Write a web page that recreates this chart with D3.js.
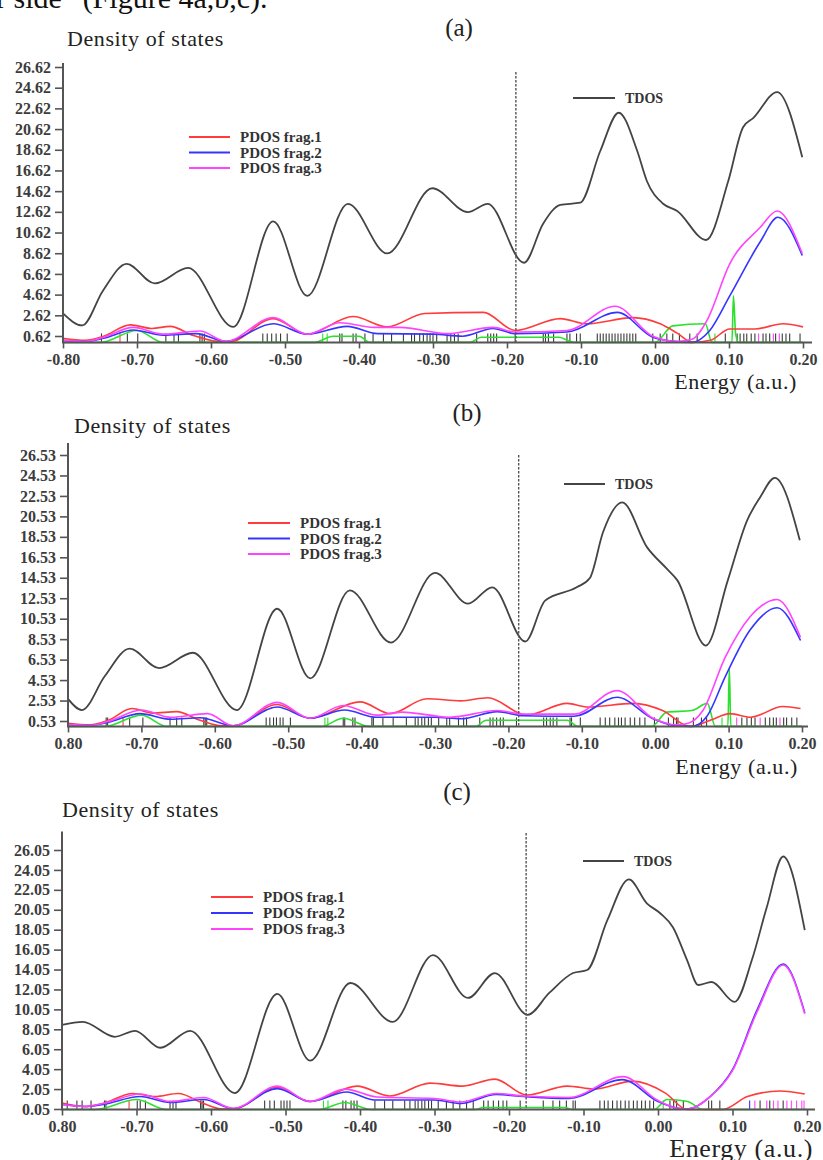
<!DOCTYPE html>
<html>
<head>
<meta charset="utf-8">
<script src="https://cdn.jsdelivr.net/npm/d3@7"></script>
<style>
  html, body { margin: 0; padding: 0; background: #fff; }
  svg { display: block; }
  text { font-family: "Liberation Serif", "Times New Roman", serif; }
</style>
</head>
<body>
<svg id="fig" width="823" height="1160"></svg>
<script>
// x axis (energy, a.u.)
const energyTicks = [-0.8, -0.7, -0.6, -0.5, -0.4, -0.3, -0.2, -0.1, 0.0, 0.1, 0.2]
const energyLabelsA = ['-0.80', '-0.70', '-0.60', '-0.50', '-0.40', '-0.30', '-0.20', '-0.10', '0.00', '0.10', '0.20']
const energyLabelsBC = ['0.80', '-0.70', '-0.60', '-0.50', '-0.40', '-0.30', '-0.20', '-0.10', '0.00', '0.10', '0.20']

// y ticks of the three panels
const dosTicksA = [0.62, 2.62, 4.62, 6.62, 8.62, 10.62, 12.62, 14.62, 16.62, 18.62, 20.62, 22.62, 24.62, 26.62]
const dosTicksB = [0.53, 2.53, 4.53, 6.53, 8.53, 10.53, 12.53, 14.53, 16.53, 18.53, 20.53, 22.53, 24.53, 26.53]
const dosTicksC = [0.05, 2.05, 4.05, 6.05, 8.05, 10.05, 12.05, 14.05, 16.05, 18.05, 20.05, 22.05, 24.05, 26.05]

// HOMO level (dashed line) per panel
const homo = [-0.188, -0.186, -0.177]

const seriesNames = ['TDOS', 'PDOS frag.1', 'PDOS frag.2', 'PDOS frag.3']

// ---- panel (a) ----
const tdosA = [[-0.800, 2.8], [-0.774, 1.64], [-0.746, 5.0], [-0.714, 7.6], [-0.676, 5.7], [-0.631, 7.2], [-0.570, 1.5],
  [-0.516, 11.7], [-0.470, 4.5], [-0.415, 13.4], [-0.362, 8.6], [-0.301, 14.9], [-0.253, 12.6], [-0.226, 13.4],
  [-0.177, 7.7], [-0.151, 11.5], [-0.128, 13.3], [-0.101, 13.5], [-0.074, 18.5], [-0.049, 22.2], [-0.024, 18.5],
  [-0.011, 15.6], [0.011, 13.4], [0.030, 12.7], [0.069, 9.9], [0.099, 15.6], [0.119, 20.8], [0.133, 21.7],
  [0.165, 24.2], [0.199, 17.9]]
const frag1A = [[-0.800, 0.4], [-0.770, 0.2], [-0.745, 0.6], [-0.709, 1.7], [-0.680, 1.35], [-0.655, 1.55], [-0.625, 0.7],
  [-0.592, 0.1], [-0.575, 0.05], [-0.516, 2.3], [-0.470, 0.8], [-0.408, 2.5], [-0.362, 1.5], [-0.311, 2.8],
  [-0.232, 2.9], [-0.189, 1.15], [-0.128, 2.3], [-0.092, 1.8], [-0.030, 2.4], [0.007, 1.8], [0.030, 0.9],
  [0.051, 0.0], [0.075, 0.2], [0.101, 1.3], [0.135, 1.3], [0.173, 1.8], [0.200, 1.5]]
const frag2A = [[-0.800, 0.2], [-0.770, 0.1], [-0.745, 0.4], [-0.705, 1.2], [-0.665, 0.7], [-0.620, 0.85], [-0.580, 0.1],
  [-0.516, 1.8], [-0.470, 0.8], [-0.416, 1.55], [-0.375, 0.85], [-0.300, 0.8], [-0.260, 0.6], [-0.219, 1.35],
  [-0.189, 0.85], [-0.119, 1.0], [-0.051, 2.9], [-0.003, 0.5], [0.020, 0.15], [0.050, 0.0], [0.074, 1.15],
  [0.101, 4.5], [0.142, 9.7], [0.166, 12.1], [0.199, 8.4]]
const frag3A = [[-0.800, 0.2], [-0.770, 0.1], [-0.745, 0.5], [-0.705, 1.45], [-0.665, 0.8], [-0.615, 1.1], [-0.580, 0.1],
  [-0.516, 2.4], [-0.470, 0.8], [-0.426, 1.9], [-0.380, 1.45], [-0.345, 1.45], [-0.280, 0.85], [-0.219, 1.45],
  [-0.189, 1.0], [-0.119, 1.15], [-0.054, 3.5], [-0.003, 0.6], [0.030, 0.1], [0.050, 0.3], [0.070, 2.1],
  [0.101, 7.6], [0.142, 11.1], [0.165, 12.7], [0.199, 8.6]]
const frag4A = [[-0.800, 0], [-0.750, 0], [-0.700, 1.15], [-0.665, 0], [-0.460, 0], [-0.435, 0.6], [-0.400, 0.6],
  [-0.385, 0], [-0.250, 0], [-0.235, 0.5], [-0.130, 0.5], [-0.110, 0], [0.000, 0], [0.024, 1.6], [0.068, 1.8],
  [0.077, 0], [0.104, 0], [0.106, 4.5], [0.109, 0.8], [0.113, 0], [0.200, 0]]
// eigenvalue sticks: [energy, fragment (0 = none)]
const sticksA = [[-0.748, 0], [-0.723, 1], [-0.713, 0], [-0.699, 0], [-0.661, 0], [-0.650, 0], [-0.644, 0], [-0.615, 0],
  [-0.612, 0], [-0.609, 0], [-0.530, 0], [-0.524, 0], [-0.518, 0], [-0.512, 0], [-0.506, 0], [-0.497, 0], [-0.449, 4],
  [-0.443, 4], [-0.426, 0], [-0.423, 0], [-0.408, 0], [-0.404, 0], [-0.392, 0], [-0.381, 0], [-0.367, 0], [-0.356, 0],
  [-0.340, 0], [-0.329, 0], [-0.325, 0], [-0.318, 0], [-0.313, 0], [-0.308, 0], [-0.304, 0], [-0.300, 0], [-0.295, 0],
  [-0.281, 0], [-0.276, 0], [-0.271, 0], [-0.266, 0], [-0.241, 0], [-0.226, 0], [-0.222, 0], [-0.218, 0], [-0.214, 0],
  [-0.189, 0], [-0.151, 0], [-0.148, 0], [-0.144, 0], [-0.137, 0], [-0.119, 0], [-0.115, 0], [-0.106, 0], [-0.101, 0],
  [-0.078, 0], [-0.074, 0], [-0.070, 0], [-0.066, 0], [-0.062, 0], [-0.058, 0], [-0.054, 0], [-0.050, 0], [-0.046, 0],
  [-0.042, 0], [-0.038, 0], [-0.034, 0], [-0.030, 0], [-0.026, 0], [-0.003, 0], [0.007, 0], [0.016, 0], [0.024, 0],
  [0.033, 0], [0.047, 0], [0.057, 0], [0.081, 4], [0.095, 0], [0.111, 0], [0.115, 0], [0.120, 0], [0.124, 0],
  [0.130, 0], [0.135, 0], [0.140, 3], [0.146, 0], [0.150, 0], [0.155, 0], [0.160, 3], [0.163, 0], [0.168, 3],
  [0.172, 0], [0.177, 0], [0.182, 0], [0.196, 0]]

// ---- panel (b) ----
const tdosB = [[-0.800, 2.7], [-0.781, 1.6], [-0.750, 4.9], [-0.716, 7.6], [-0.676, 5.7], [-0.630, 7.2], [-0.570, 1.6],
  [-0.515, 11.5], [-0.470, 4.7], [-0.416, 13.3], [-0.360, 8.2], [-0.300, 15.0], [-0.255, 12.0], [-0.222, 13.6],
  [-0.177, 8.3], [-0.150, 12.3], [-0.107, 13.6], [-0.089, 14.5], [-0.071, 19.0], [-0.045, 21.9], [-0.011, 17.5],
  [0.016, 15.4], [0.030, 14.3], [0.069, 7.9], [0.099, 14.3], [0.125, 20.1], [0.143, 22.4], [0.163, 24.3],
  [0.197, 18.2]]
const frag1B = [[-0.800, 0.3], [-0.770, 0.15], [-0.745, 0.6], [-0.713, 1.75], [-0.685, 1.3], [-0.652, 1.45], [-0.620, 0.6],
  [-0.590, 0.05], [-0.575, 0.05], [-0.515, 2.15], [-0.470, 0.8], [-0.402, 2.4], [-0.361, 1.25], [-0.311, 2.7],
  [-0.265, 2.5], [-0.228, 2.8], [-0.175, 1.1], [-0.120, 2.25], [-0.092, 1.9], [-0.030, 2.25], [0.010, 1.55],
  [0.047, 0.0], [0.075, 0.6], [0.102, 1.25], [0.130, 0.9], [0.174, 1.95], [0.198, 1.75]]
const frag2B = [[-0.800, 0.2], [-0.770, 0.1], [-0.745, 0.4], [-0.702, 1.25], [-0.660, 0.7], [-0.620, 0.85], [-0.575, 0.05],
  [-0.515, 1.9], [-0.470, 0.8], [-0.423, 1.6], [-0.380, 0.9], [-0.300, 0.9], [-0.265, 0.75], [-0.215, 1.45],
  [-0.180, 1.05], [-0.110, 1.0], [-0.052, 2.85], [-0.003, 0.75], [0.025, 0.1], [0.050, 0.0], [0.071, 1.05],
  [0.095, 4.8], [0.129, 9.4], [0.166, 11.6], [0.198, 8.4]]
const frag3B = [[-0.800, 0.2], [-0.770, 0.1], [-0.745, 0.5], [-0.700, 1.6], [-0.660, 0.9], [-0.610, 1.25], [-0.575, 0.05],
  [-0.515, 2.35], [-0.470, 0.8], [-0.425, 2.05], [-0.380, 1.1], [-0.345, 1.4], [-0.280, 0.9], [-0.215, 1.55],
  [-0.180, 1.2], [-0.110, 1.2], [-0.052, 3.5], [-0.003, 0.8], [0.030, 0.15], [0.045, 0.3], [0.065, 1.55],
  [0.095, 6.7], [0.129, 10.7], [0.166, 12.4], [0.198, 8.7]]
const frag4B = [[-0.800, 0], [-0.750, 0], [-0.700, 1.1], [-0.665, 0], [-0.455, 0], [-0.425, 0.8], [-0.390, 0],
  [-0.245, 0], [-0.230, 0.6], [-0.120, 0.6], [-0.105, 0], [-0.005, 0], [0.016, 1.4], [0.050, 1.55], [0.071, 2.25],
  [0.082, 0], [0.099, 0], [0.101, 5.7], [0.103, 0], [0.200, 0]]
const sticksB = [[-0.748, 0], [-0.746, 0], [-0.725, 1], [-0.716, 0], [-0.698, 0], [-0.661, 0], [-0.652, 0], [-0.645, 0],
  [-0.615, 0], [-0.613, 0], [-0.611, 0], [-0.530, 0], [-0.525, 0], [-0.520, 0], [-0.516, 0], [-0.511, 0], [-0.507, 0],
  [-0.497, 0], [-0.450, 4], [-0.446, 4], [-0.425, 0], [-0.423, 0], [-0.412, 0], [-0.409, 0], [-0.386, 0], [-0.384, 0],
  [-0.371, 0], [-0.357, 0], [-0.339, 0], [-0.327, 0], [-0.323, 0], [-0.318, 0], [-0.314, 0], [-0.309, 0], [-0.305, 0],
  [-0.295, 0], [-0.284, 0], [-0.280, 0], [-0.268, 0], [-0.261, 0], [-0.257, 0], [-0.239, 0], [-0.225, 0], [-0.221, 0],
  [-0.216, 0], [-0.211, 0], [-0.207, 0], [-0.189, 0], [-0.152, 0], [-0.148, 0], [-0.143, 0], [-0.139, 0], [-0.134, 0],
  [-0.116, 0], [-0.114, 0], [-0.102, 0], [-0.075, 0], [-0.068, 0], [-0.062, 0], [-0.055, 0], [-0.050, 0], [-0.046, 0],
  [-0.041, 0], [-0.034, 0], [-0.028, 0], [-0.021, 0], [-0.014, 0], [-0.001, 0], [0.018, 0], [0.025, 0], [0.029, 0],
  [0.031, 0], [0.052, 0], [0.063, 0], [0.070, 0], [0.091, 4], [0.111, 3], [0.118, 0], [0.125, 0], [0.131, 0],
  [0.136, 0], [0.143, 3], [0.150, 0], [0.156, 0], [0.161, 0], [0.165, 0], [0.170, 3], [0.175, 0], [0.179, 0],
  [0.186, 0], [0.193, 0]]

// ---- panel (c) ----
const tdosC = [[-0.800, 8.5], [-0.772, 8.8], [-0.729, 7.3], [-0.702, 7.9], [-0.668, 6.2], [-0.628, 7.9], [-0.568, 1.65],
  [-0.511, 11.6], [-0.467, 4.9], [-0.413, 12.7], [-0.356, 8.8], [-0.302, 15.5], [-0.255, 11.2], [-0.219, 13.7],
  [-0.175, 9.5], [-0.146, 11.7], [-0.114, 13.7], [-0.095, 14.0], [-0.068, 19.0], [-0.039, 23.1], [-0.015, 20.7],
  [0.003, 19.7], [0.020, 18.3], [0.039, 15.0], [0.054, 12.5], [0.072, 12.8], [0.103, 10.8], [0.126, 15.0],
  [0.146, 20.3], [0.168, 25.4], [0.197, 18.0]]
const frag1C = [[-0.800, 0.65], [-0.770, 0.3], [-0.745, 0.6], [-0.705, 1.6], [-0.675, 1.3], [-0.644, 1.6], [-0.610, 0.6],
  [-0.585, 0.05], [-0.570, 0.05], [-0.511, 2.25], [-0.467, 0.8], [-0.404, 2.35], [-0.360, 1.35], [-0.306, 2.65],
  [-0.262, 2.35], [-0.219, 3.05], [-0.176, 1.45], [-0.122, 2.35], [-0.085, 2.05], [-0.034, 2.85], [0.010, 1.65],
  [0.039, 0.0], [0.087, 0.0], [0.120, 1.3], [0.164, 1.85], [0.197, 1.55]]
const frag2C = [[-0.800, 0.5], [-0.770, 0.3], [-0.745, 0.5], [-0.695, 1.3], [-0.655, 0.7], [-0.610, 1.0], [-0.570, 0.1],
  [-0.511, 2.1], [-0.467, 0.8], [-0.418, 1.75], [-0.380, 0.95], [-0.300, 0.95], [-0.265, 0.6], [-0.217, 1.5],
  [-0.180, 1.3], [-0.120, 1.1], [-0.048, 3.0], [0.000, 0.8], [0.025, 0.15], [0.040, 0.05], [0.070, 1.3],
  [0.100, 4.0], [0.133, 10.0], [0.168, 14.6], [0.197, 9.7]]
const frag3C = [[-0.800, 0.5], [-0.770, 0.3], [-0.745, 0.6], [-0.695, 1.55], [-0.655, 0.8], [-0.610, 1.2], [-0.570, 0.1],
  [-0.511, 2.35], [-0.467, 0.8], [-0.420, 2.05], [-0.377, 1.25], [-0.300, 1.1], [-0.265, 0.75], [-0.217, 1.6],
  [-0.180, 1.35], [-0.120, 1.2], [-0.047, 3.3], [0.000, 0.9], [0.025, 0.15], [0.040, 0.05], [0.070, 1.3],
  [0.100, 3.9], [0.133, 9.8], [0.168, 14.5], [0.197, 9.6]]
const frag4C = [[-0.800, 0], [-0.755, 0], [-0.700, 1.0], [-0.660, 0], [-0.455, 0], [-0.420, 0.7], [-0.385, 0],
  [-0.245, 0], [-0.235, 0.2], [-0.125, 0.2], [-0.115, 0], [-0.005, 0], [0.012, 1.0], [0.040, 0.8], [0.060, 0],
  [0.200, 0]]
const sticksC = [[-0.793, 0], [-0.780, 0], [-0.773, 0], [-0.761, 0], [-0.743, 0], [-0.741, 0], [-0.710, 1], [-0.699, 0],
  [-0.695, 0], [-0.688, 0], [-0.655, 0], [-0.651, 0], [-0.647, 0], [-0.614, 0], [-0.612, 0], [-0.610, 0], [-0.528, 0],
  [-0.521, 0], [-0.515, 0], [-0.506, 0], [-0.502, 0], [-0.498, 0], [-0.494, 0], [-0.449, 4], [-0.443, 4], [-0.423, 0],
  [-0.419, 0], [-0.412, 0], [-0.408, 0], [-0.404, 0], [-0.380, 0], [-0.367, 0], [-0.356, 0], [-0.340, 0], [-0.333, 0],
  [-0.326, 0], [-0.322, 0], [-0.317, 0], [-0.313, 0], [-0.308, 0], [-0.304, 0], [-0.295, 0], [-0.284, 0], [-0.275, 0],
  [-0.266, 0], [-0.257, 0], [-0.248, 0], [-0.234, 0], [-0.228, 0], [-0.221, 0], [-0.214, 0], [-0.208, 0], [-0.203, 0],
  [-0.185, 0], [-0.154, 0], [-0.141, 0], [-0.132, 0], [-0.123, 0], [-0.114, 0], [-0.111, 0], [-0.078, 0], [-0.072, 0],
  [-0.067, 0], [-0.061, 0], [-0.055, 0], [-0.050, 0], [-0.044, 0], [-0.039, 0], [-0.033, 0], [-0.028, 0], [-0.022, 0],
  [-0.017, 0], [-0.011, 0], [-0.006, 0], [0.007, 4], [0.016, 0], [0.021, 0], [0.025, 0], [0.034, 0], [0.068, 0],
  [0.072, 0], [0.083, 0], [0.123, 2], [0.130, 3], [0.137, 0], [0.146, 3], [0.150, 0], [0.155, 3], [0.161, 3],
  [0.168, 0], [0.173, 3], [0.179, 3], [0.186, 3], [0.193, 3], [0.196, 3]]

// colours: TDOS, frag1..frag4
const colors = ['#444', '#ff3b3b', '#3535ff', '#ff44ff', '#2ee02e']

const svg = d3.select('#fig')
svg.append('rect').attr('width', 823).attr('height', 1160).attr('fill', '#fff')

// cut-off sentence at the top of the page
svg.append('text')
  .attr('x', -4).attr('y', 8)
  .attr('font-size', 30).attr('fill', '#111')
  .text('r side” (Figure 4a,b,c).')

const panels = [
  {
    tag: '(a)', tdos: tdosA, frags: [frag1A, frag2A, frag3A, frag4A], sticks: sticksA, homo: homo[0],
    yTicks: dosTicksA, xLabels: energyLabelsA,
    x0: 63, x1: 803, yFirst: 336, yLast: 67, yTop: 27.0, xEnd: 812,
    title: [67, 46], tagPos: [459, 36], energy: [797, 389, 22], dashTop: 72,
    tdosLeg: [573, 615, 98], pdosLeg: [189, 230, 137, 15.5]
  },
  {
    tag: '(b)', tdos: tdosB, frags: [frag1B, frag2B, frag3B, frag4B], sticks: sticksB, homo: homo[1],
    yTicks: dosTicksB, xLabels: energyLabelsBC,
    x0: 68, x1: 802, yFirst: 721, yLast: 455, yTop: 27.7, xEnd: 808,
    title: [74, 433], tagPos: [467, 421], energy: [798, 774, 22], dashTop: 455,
    tdosLeg: [564, 605, 484], pdosLeg: [248, 290, 523, 15.5]
  },
  {
    tag: '(c)', tdos: tdosC, frags: [frag1C, frag2C, frag3C, frag4C], sticks: sticksC, homo: homo[2],
    yTicks: dosTicksC, xLabels: energyLabelsBC,
    x0: 62, x1: 807, yFirst: 1109, yLast: 850, yTop: 27.9, xEnd: 815,
    title: [62, 817], tagPos: [457, 800], energy: [813, 1157, 26], dashTop: 833,
    tdosLeg: [583, 624, 861], pdosLeg: [211, 253, 897, 16]
  }
]

panels.forEach(drawPanel)

function drawPanel(p) {
  const g = svg.append('g')

  const x = d3.scaleLinear().domain([-0.8, 0.2]).range([p.x0, p.x1])
  const y = d3.scaleLinear()
    .domain([p.yTicks[0], p.yTicks[p.yTicks.length - 1]])
    .range([p.yFirst, p.yLast])

  // eigenvalue sticks
  g.append('g').selectAll('line')
    .data(p.sticks)
    .join('line')
      .attr('x1', d => x(d[0])).attr('x2', d => x(d[0]))
      .attr('y1', y(0)).attr('y2', y(0) - 9)
      .attr('stroke', d => d[1] === 0 ? '#3a3a3a' : colors[d[1]])
      .attr('stroke-width', 1.1)

  const line = d3.line()
    .x(d => x(d[0]))
    .y(d => y(d[1]))
    .curve(d3.curveMonotoneX)

  // PDOS curves: frag4 (green) first, then 1, 2, 3
  const order = [3, 0, 1, 2]
  order.forEach(i => {
    g.append('path')
      .datum(p.frags[i])
      .attr('fill', 'none')
      .attr('stroke', colors[i + 1])
      .attr('stroke-width', 1.6)
      .attr('d', line)
  })

  g.append('path')
    .datum(p.tdos)
    .attr('fill', 'none')
    .attr('stroke', colors[0])
    .attr('stroke-width', 1.8)
    .attr('d', line)

  // HOMO dashed line
  g.append('line')
    .attr('x1', x(p.homo)).attr('x2', x(p.homo))
    .attr('y1', p.dashTop).attr('y2', y(0))
    .attr('stroke', '#555')
    .attr('stroke-width', 1.4)
    .attr('stroke-dasharray', '2.5,1.5')

  // axes
  const axisColor = '#555'
  const yAxis = g.append('g')
    .attr('transform', `translate(${p.x0},0)`)
    .call(d3.axisLeft(y).tickValues(p.yTicks).tickFormat(d3.format('.2f')).tickSize(8).tickPadding(4))
  yAxis.select('.domain').remove()

  const xAxis = g.append('g')
    .attr('transform', `translate(0,${y(0)})`)
    .call(d3.axisBottom(x).tickValues(energyTicks).tickFormat((d, i) => p.xLabels[i]).tickSize(6).tickPadding(5))
  xAxis.select('.domain').remove()

  ;[yAxis, xAxis].forEach(a => {
    a.selectAll('line').attr('stroke', axisColor).attr('stroke-width', 1.6)
    a.selectAll('text')
      .attr('font-family', '"Liberation Serif", serif')
      .attr('font-size', 16)
      .attr('font-weight', 'bold')
      .attr('fill', '#3c3c3c')
  })

  g.append('line')
    .attr('x1', p.x0).attr('x2', p.x0)
    .attr('y1', y(0)).attr('y2', y(p.yTop))
    .attr('stroke', axisColor).attr('stroke-width', 2)
  g.append('line')
    .attr('x1', p.x0 - 1).attr('x2', p.xEnd)
    .attr('y1', y(0)).attr('y2', y(0))
    .attr('stroke', axisColor).attr('stroke-width', 2)

  // titles
  g.append('text')
    .attr('x', p.title[0]).attr('y', p.title[1])
    .attr('font-size', 22).attr('letter-spacing', 0.6).attr('fill', '#222')
    .text('Density of states')
  g.append('text')
    .attr('x', p.tagPos[0]).attr('y', p.tagPos[1])
    .attr('text-anchor', 'middle')
    .attr('font-size', 25).attr('fill', '#222')
    .text(p.tag)
  g.append('text')
    .attr('x', p.energy[0]).attr('y', p.energy[1])
    .attr('text-anchor', 'end')
    .attr('font-size', p.energy[2]).attr('letter-spacing', 0.6).attr('fill', '#222')
    .text('Energy (a.u.)')

  // legends
  const tl = p.tdosLeg
  g.append('line')
    .attr('x1', tl[0]).attr('x2', tl[1]).attr('y1', tl[2]).attr('y2', tl[2])
    .attr('stroke', colors[0]).attr('stroke-width', 1.8)
  g.append('text')
    .attr('x', tl[1] + 10).attr('y', tl[2] + 5)
    .attr('font-size', 14).attr('font-weight', 'bold').attr('fill', '#333')
    .text(seriesNames[0])

  const pl = p.pdosLeg
  for (let i = 1; i <= 3; i++) {
    const ly = pl[2] + (i - 1) * pl[3]
    g.append('line')
      .attr('x1', pl[0]).attr('x2', pl[1]).attr('y1', ly).attr('y2', ly)
      .attr('stroke', colors[i]).attr('stroke-width', 1.8)
    g.append('text')
      .attr('x', pl[1] + 10).attr('y', ly + 5)
      .attr('font-size', 15).attr('font-weight', 'bold').attr('fill', '#333')
      .text(seriesNames[i])
  }
}
</script>
</body>
</html>
